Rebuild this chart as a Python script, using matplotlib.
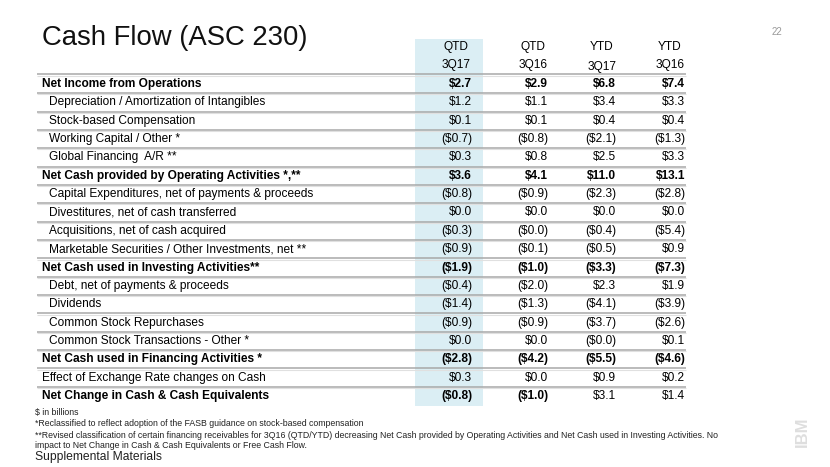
import matplotlib
matplotlib.use("Agg")
import matplotlib.pyplot as plt
from matplotlib.patches import Rectangle

plt.rcParams['font.family'] = ['Liberation Sans', 'DejaVu Sans']

# table content
col_top = ['QTD', 'QTD', 'YTD', 'YTD']
col_sub = ['3Q17', '3Q16', '3Q17', '3Q16']

row_labels = [
    'Net Income from Operations',
    'Depreciation / Amortization of Intangibles',
    'Stock-based Compensation',
    'Working Capital / Other *',
    'Global Financing  A/R **',
    'Net Cash provided by Operating Activities *,**',
    'Capital Expenditures, net of payments & proceeds',
    'Divestitures, net of cash transferred',
    'Acquisitions, net of cash acquired',
    'Marketable Securities / Other Investments, net **',
    'Net Cash used in Investing Activities**',
    'Debt, net of payments & proceeds',
    'Dividends',
    'Common Stock Repurchases',
    'Common Stock Transactions - Other *',
    'Net Cash used in Financing Activities *',
    'Effect of Exchange Rate changes on Cash',
    'Net Change in Cash & Cash Equivalents',
]
bold_rows = [0, 5, 10, 15, 17]
unindented_rows = [0, 5, 10, 15, 16, 17]
plain_cells = [(17, 2), (17, 3)]

qtd_3q17 = ['$2.7', '$1.2', '$0.1', '($0.7)', '$0.3', '$3.6', '($0.8)', '$0.0', '($0.3)',
            '($0.9)', '($1.9)', '($0.4)', '($1.4)', '($0.9)', '$0.0', '($2.8)', '$0.3', '($0.8)']
qtd_3q16 = ['$2.9', '$1.1', '$0.1', '($0.8)', '$0.8', '$4.1', '($0.9)', '$0.0', '($0.0)',
            '($0.1)', '($1.0)', '($2.0)', '($1.3)', '($0.9)', '$0.0', '($4.2)', '$0.0', '($1.0)']
ytd_3q17 = ['$6.8', '$3.4', '$0.4', '($2.1)', '$2.5', '$11.0', '($2.3)', '$0.0', '($0.4)',
            '($0.5)', '($3.3)', '$2.3', '($4.1)', '($3.7)', '($0.0)', '($5.5)', '$0.9', '$3.1']
ytd_3q16 = ['$7.4', '$3.3', '$0.4', '($1.3)', '$3.3', '$13.1', '($2.8)', '$0.0', '($5.4)',
            '$0.9', '($7.3)', '$1.9', '($3.9)', '($2.6)', '$0.1', '($4.6)', '$0.2', '$1.4']
columns = [qtd_3q17, qtd_3q16, ytd_3q17, ytd_3q16]

footnotes = [
    '$ in billions',
    '*Reclassified to reflect adoption of the FASB guidance on stock-based compensation',
    '**Revised classification of certain financing receivables for 3Q16 (QTD/YTD) decreasing Net Cash '
    'provided by Operating Activities and Net Cash used in Investing Activities. No',
    'impact to Net Change in Cash & Cash Equivalents or Free Cash Flow.',
]

# layout (pixel coordinates)
W, H = 830, 467
fig = plt.figure(figsize=(W / 100, H / 100), dpi=100)
ax = fig.add_axes([0, 0, 1, 1])
ax.set_xlim(0, W)
ax.set_ylim(H, 0)
ax.axis('off')

y0, dy = 84, 18.35
col_right = [472, 548, 616, 685]
col_center = [456, 533, 602, 670]
fs = 8.6

# highlighted current-quarter column
ax.add_patch(Rectangle((415, 39), 68, 367, facecolor='#dbeef4', edgecolor='none', zorder=0))

ax.text(42, 38, 'Cash Flow (ASC 230)', fontsize=19.8, va='center', ha='left', color='#111111')
ax.text(782, 32, '22', fontsize=7, va='center', ha='right', color='#999999')

for j in range(4):
    ax.text(col_center[j], 47, col_top[j], fontsize=fs, ha='center', va='center')
    ax.text(col_center[j], 65 + (2 if j == 2 else 0), col_sub[j], fontsize=fs, ha='center', va='center')

# separator lines
line_ys = [y0 - dy / 2 - 0.5] + [y0 + (i + 0.5) * dy for i in range(len(row_labels) - 1)]
for ly in line_ys:
    ax.plot([37, 686], [ly, ly], color='#a8a8a8', lw=1.1, zorder=1, solid_capstyle='butt')
    ax.plot([37, 686], [ly + 1.2, ly + 1.2], color='#e0e0e0', lw=0.8, zorder=1, solid_capstyle='butt')

for i, label in enumerate(row_labels):
    y = y0 + i * dy
    bold = i in bold_rows
    x = 42 if i in unindented_rows else 49
    ax.text(x, y, label, fontsize=fs, ha='left', va='center',
            fontweight='bold' if bold else 'normal', color='black')
    for j, col in enumerate(columns):
        wb = bold and (i, j) not in plain_cells
        ax.text(col_right[j], y, col[i], fontsize=fs, ha='right', va='center',
                fontweight='bold' if wb else 'normal', color='black')

# footnotes
foot_y = [412, 423.5, 435, 446]
for t, fy in zip(footnotes, foot_y):
    ax.text(35, fy, t, fontsize=6.3, ha='left', va='center', color='#222222')
ax.text(35, 457, 'Supplemental Materials', fontsize=8.7, ha='left', va='center', color='#222222')

ax.text(802, 432, 'IBM', fontsize=12, rotation=90, fontweight='bold', ha='center', va='center',
        color='#dedede')

fig.savefig('out.png', dpi=100)
